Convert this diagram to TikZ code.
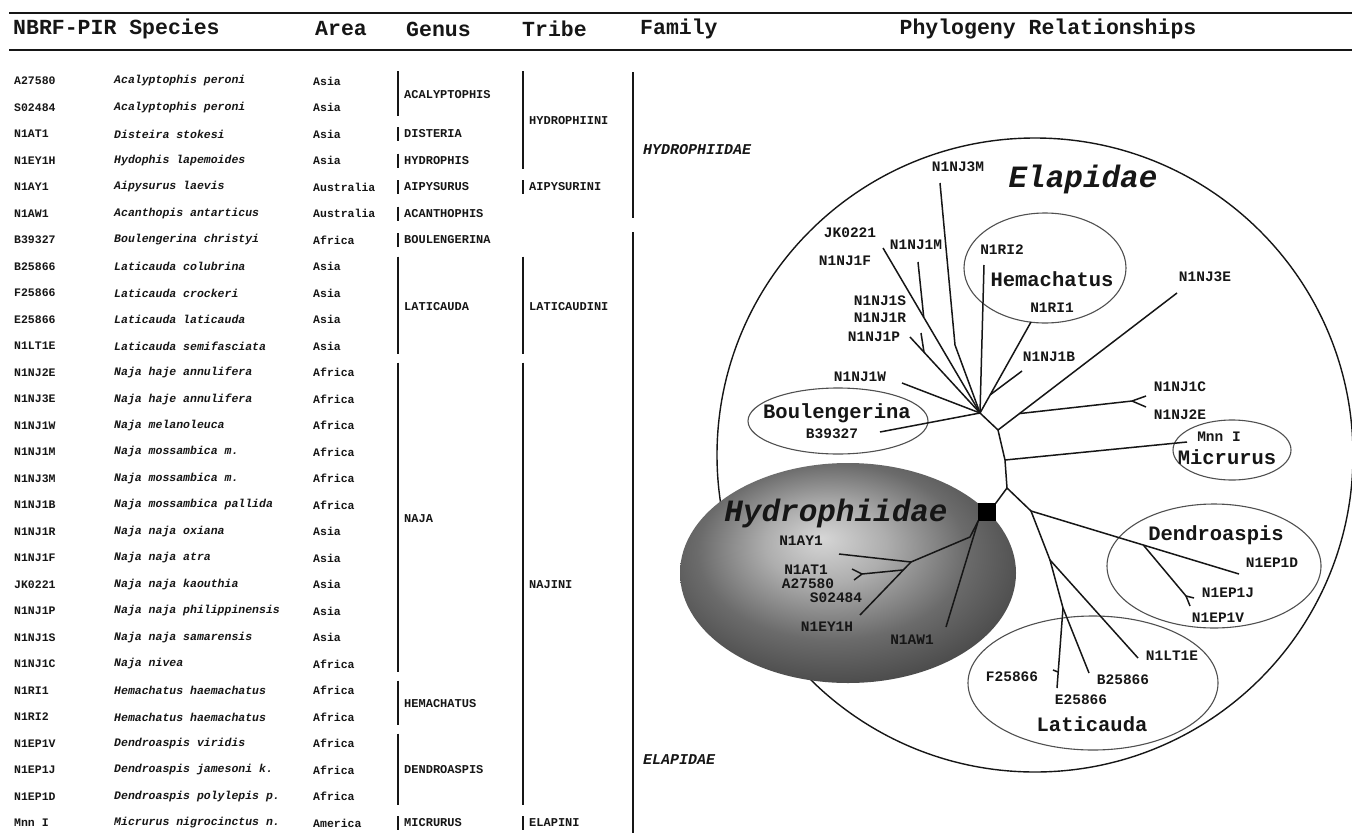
\documentclass[tikz,border=0pt]{standalone}
\usepackage{xcolor}
\usepackage{fontspec}
\setmainfont{Liberation Mono}
\usetikzlibrary{calc,positioning}
\definecolor{ink}{HTML}{161616}
\definecolor{rim}{HTML}{505050}
\pgfdeclareradialshading{hydroshade}{\pgfpoint{-4bp}{8bp}}{color(0bp)=(black!16); color(9bp)=(black!32); color(20bp)=(black!58); color(30bp)=(black!72); color(50bp)=(black!72)}

\begin{document}
\begin{tikzpicture}[x=1pt,y=-1pt,
  rowid/.style={anchor=west,inner sep=0pt,text=ink,font=\fontsize{11.5}{12}\selectfont\bfseries},
  rowsp/.style={rowid,font=\fontsize{11.5}{12}\selectfont\bfseries\itshape},
  head/.style={anchor=west,inner sep=0pt,text=ink,font=\fontsize{21.5}{23}\selectfont\bfseries},
  gtxt/.style={anchor=west,inner sep=0pt,text=ink,font=\fontsize{12}{13}\selectfont\bfseries},
  ftxt/.style={anchor=west,inner sep=0pt,text=ink,font=\fontsize{15}{16}\selectfont\bfseries\itshape},
  brk/.style={draw=ink,line width=1.2pt},
  rule/.style={draw=ink,line width=2pt},
  br/.style={draw=ink,line width=1.5pt,line join=round},
  lbl/.style={inner sep=0pt,text=ink,font=\fontsize{14.5}{15}\selectfont\bfseries},
  grp/.style={inner sep=0pt,text=ink,font=\fontsize{20.5}{21}\selectfont\bfseries},
  big/.style={inner sep=0pt,text=ink,font=\fontsize{31}{31}\selectfont\bfseries\itshape},
  oval/.style={draw=rim,line width=1.1pt}]
\useasboundingbox (0,0) rectangle (1352,838);
\fill[white] (0,0) rectangle (1352,838);

\draw[rule] (9,12.5) -- (1352,12.5);
\draw[rule] (9,50) -- (1352,50);
\node[head] (hsp) at (13,29) {NBRF-PIR Species};
\node[head] (har) at (315,29) {Area};
\node[head] (hge) at (406,29) {Genus};
\node[head] (htr) at (522,29) {Tribe};
\node[head] (hfa) at (640,29) {Family};
\node[head,anchor=center] (hph) at (1048,29) {Phylogeny Relationships};

\foreach \id/\sp/\ar [count=\i from 0] in {
  A27580/Acalyptophis peroni/Asia,
  S02484/Acalyptophis peroni/Asia,
  N1AT1/Disteira stokesi/Asia,
  N1EY1H/Hydophis lapemoides/Asia,
  N1AY1/Aipysurus laevis/Australia,
  N1AW1/Acanthopis antarticus/Australia,
  B39327/Boulengerina christyi/Africa,
  B25866/Laticauda colubrina/Asia,
  F25866/Laticauda crockeri/Asia,
  E25866/Laticauda laticauda/Asia,
  N1LT1E/Laticauda semifasciata/Asia,
  N1NJ2E/Naja haje annulifera/Africa,
  N1NJ3E/Naja haje annulifera/Africa,
  N1NJ1W/Naja melanoleuca/Africa,
  N1NJ1M/Naja mossambica m./Africa,
  N1NJ3M/Naja mossambica m./Africa,
  N1NJ1B/Naja mossambica pallida/Africa,
  N1NJ1R/Naja naja oxiana/Asia,
  N1NJ1F/Naja naja atra/Asia,
  JK0221/Naja naja kaouthia/Asia,
  N1NJ1P/Naja naja philippinensis/Asia,
  N1NJ1S/Naja naja samarensis/Asia,
  N1NJ1C/Naja nivea/Africa,
  N1RI1/Hemachatus haemachatus/Africa,
  N1RI2/Hemachatus haemachatus/Africa,
  N1EP1V/Dendroaspis viridis/Africa,
  N1EP1J/Dendroaspis jamesoni k./Africa,
  N1EP1D/Dendroaspis polylepis p./Africa,
  Mnn I/Micrurus nigrocinctus n./America}
{
  \pgfmathsetmacro\yy{81+26.5*\i}
  \node[rowid] (id\i) at (14,\yy) {\id};
  \node[rowsp] (sp\i) at (114,\yy) {\sp};
  \node[rowid] (ar\i) at (313,\yy) {\ar};
}

\foreach \g/\a/\b [count=\k] in {ACALYPTOPHIS/0/1,DISTERIA/2/2,HYDROPHIS/3/3,AIPYSURUS/4/4,
  ACANTHOPHIS/5/5,BOULENGERINA/6/6,LATICAUDA/7/10,NAJA/11/22,HEMACHATUS/23/24,
  DENDROASPIS/25/27,MICRURUS/28/28}
{
  \pgfmathsetmacro\ya{81+26.5*\a-(\a==\b ? 7 : 10)}
  \pgfmathsetmacro\yb{81+26.5*\b+(\a==\b ? 7 : 8)}
  \pgfmathsetmacro\ym{81+13.25*(\a+\b)}
  \coordinate (gt\k) at (398,\ya);
  \coordinate (gb\k) at (398,\yb);
  \draw[brk] (gt\k) -- (gb\k);
  \node[gtxt] (g\k) at (404,\ym) {\g};
}

\foreach \t/\a/\b [count=\k] in {HYDROPHIINI/0/3,AIPYSURINI/4/4,LATICAUDINI/7/10,
  NAJINI/11/27,ELAPINI/28/28}
{
  \pgfmathsetmacro\ya{81+26.5*\a-(\a==\b ? 7 : 10)}
  \pgfmathsetmacro\yb{81+26.5*\b+(\a==\b ? 7 : 8)}
  \pgfmathsetmacro\ym{81+13.25*(\a+\b)}
  \coordinate (tt\k) at (523,\ya);
  \coordinate (tb\k) at (523,\yb);
  \draw[brk] (tt\k) -- (tb\k);
  \node[gtxt] (t\k) at (529,\ym) {\t};
}

\coordinate (ft1) at (633,72); \coordinate (fb1) at (633,218);
\coordinate (ft2) at (633,232); \coordinate (fb2) at (633,833);
\draw[brk] (ft1) -- (fb1); \draw[brk] (ft2) -- (fb2);
\node[ftxt] (fhy) at (643,150) {HYDROPHIIDAE};
\node[ftxt] (fel) at (643,760) {ELAPIDAE};

\draw[ink,line width=1.4pt] (1035,455) ellipse [x radius=318pt, y radius=317pt];
\draw[oval] (1045,268) ellipse [x radius=81pt, y radius=55pt];
\draw[oval] (838,421) ellipse [x radius=90pt, y radius=33pt];
\draw[oval] (1232,450) ellipse [x radius=59pt, y radius=30pt];
\draw[oval] (1214,566) ellipse [x radius=107pt, y radius=62pt];
\draw[oval] (1093,683) ellipse [x radius=125pt, y radius=67pt];
\shade[shading=hydroshade] (848,573) ellipse [x radius=168pt, y radius=110pt];

\node[draw=black,fill=black,minimum size=17pt,inner sep=0pt] (root) at (987,512) {};
\coordinate (B) at (980,413);
\coordinate (A) at (998,430);
\coordinate (M0) at (1005,460);
\coordinate (P0) at (1007,488);
\coordinate (D0) at (1031,511);
\coordinate (eF) at (883,248);
\coordinate (eM) at (918,262);
\coordinate (jM) at ($(eF)!0.42!(B)$);
\coordinate (e3M) at (940,183);
\coordinate (k3M) at (955,345);
\coordinate (eP) at (910,337);
\coordinate (jS) at ($(eP)!0.2!(B)$);
\coordinate (eS) at (921,333);
\coordinate (eRI2) at (984,265);
\coordinate (eRI1) at (1031,322);
\coordinate (eNB) at (1022,371);
\coordinate (jNB) at ($(eRI1)!0.8!(B)$);
\coordinate (eW) at (902,383);
\coordinate (eBo) at (880,432);
\coordinate (e3E) at (1177,293);
\coordinate (jC) at ($(A)!0.12!(e3E)$);
\coordinate (eC) at (1132,401);
\coordinate (fC1) at (1146,396);
\coordinate (fC2) at (1146,407);
\coordinate (eMnn) at (1187,442);
\coordinate (h0) at (970,537);
\coordinate (H1) at (911,562);
\coordinate (eAY) at (839,554);
\coordinate (eEY) at (860,615);
\coordinate (jAT) at ($(H1)!0.15!(eEY)$);
\coordinate (eAT) at (862,574);
\coordinate (fA1) at (852,569);
\coordinate (fA2) at (854,580);
\coordinate (eAW) at (946,627);
\coordinate (eD) at (1239,574);
\coordinate (jJ) at ($(D0)!0.54!(eD)$);
\coordinate (eJ) at (1186,596);
\coordinate (fJ1) at (1194,598);
\coordinate (fJ2) at (1190,606);
\coordinate (L1) at (1050,560);
\coordinate (eLT) at (1138,658);
\coordinate (L2) at (1063,608);
\coordinate (eB25) at (1089,673);
\coordinate (eE25) at (1057,688);
\coordinate (jF25) at ($(L2)!0.8!(eE25)$);
\coordinate (eF25) at (1053,670);

\draw[br] (eF) -- (B); \draw[br] (eM) -- (jM);
\draw[br] (e3M) -- (k3M) -- (B);
\draw[br] (eP) -- (B); \draw[br] (jS) -- (eS);
\draw[br] (eRI2) -- (B);
\draw[br] (eRI1) -- (B); \draw[br] (eNB) -- (jNB);
\draw[br] (eW) -- (B); \draw[br] (eBo) -- (B);
\draw[br] (B) -- (A) -- (M0) -- (P0) -- (root.north east);
\draw[br] (A) -- (e3E); \draw[br] (jC) -- (eC) -- (fC1); \draw[br] (eC) -- (fC2);
\draw[br] (M0) -- (eMnn);
\draw[br] (root.south west) -- (h0) -- (H1) -- (eEY); \draw[br] (eAY) -- (H1);
\draw[br] (jAT) -- (eAT) -- (fA1); \draw[br] (eAT) -- (fA2);
\draw[br] (root.south west) -- (eAW);
\draw[br] (P0) -- (D0) -- (eD); \draw[br] (jJ) -- (eJ) -- (fJ1); \draw[br] (eJ) -- (fJ2);
\draw[br] (D0) -- (L1) -- (eLT); \draw[br] (L1) -- (L2) -- (eB25);
\draw[br] (L2) -- (eE25); \draw[br] (jF25) -- (eF25);

\node[big] (elap) at (1083,179) {Elapidae};
\node[big] (hydro) at (836,513) {Hydrophiidae};
\node[grp] (hema) at (1052,279) {Hemachatus};
\node[grp] (boul) at (837,413) {Boulengerina};
\node[grp] (micr) at (1227,457) {Micrurus};
\node[grp] (dend) at (1216,535) {Dendroaspis};
\node[grp] (lati) at (1092,724) {Laticauda};
\node[lbl] (nNJ3M) at (958,167) {N1NJ3M};
\node[lbl] (nJK) at (850,233) {JK0221};
\node[lbl] (nNJ1M) at (916,245) {N1NJ1M};
\node[lbl] (nNJ1F) at (845,261) {N1NJ1F};
\node[lbl] (nRI2) at (1002,250) {N1RI2};
\node[lbl] (nNJ3E) at (1205,277) {N1NJ3E};
\node[lbl] (nNJ1S) at (880,301) {N1NJ1S};
\node[lbl] (nNJ1R) at (880,318) {N1NJ1R};
\node[lbl] (nRI1) at (1052,308) {N1RI1};
\node[lbl] (nNJ1P) at (874,337) {N1NJ1P};
\node[lbl] (nNJ1B) at (1049,357) {N1NJ1B};
\node[lbl] (nNJ1W) at (860,377) {N1NJ1W};
\node[lbl] (nNJ1C) at (1180,387) {N1NJ1C};
\node[lbl] (nNJ2E) at (1180,415) {N1NJ2E};
\node[lbl] (nB39) at (832,434) {B39327};
\node[lbl] (nMnn) at (1219,437) {Mnn I};
\node[lbl] (nAY1) at (801,541) {N1AY1};
\node[lbl] (nAT1) at (806,570) {N1AT1};
\node[lbl] (nA27) at (808,584) {A27580};
\node[lbl] (nS02) at (836,598) {S02484};
\node[lbl] (nEY1H) at (827,627) {N1EY1H};
\node[lbl] (nAW1) at (912,640) {N1AW1};
\node[lbl] (nEP1D) at (1272,563) {N1EP1D};
\node[lbl] (nEP1J) at (1228,593) {N1EP1J};
\node[lbl] (nEP1V) at (1218,618) {N1EP1V};
\node[lbl] (nLT1E) at (1172,656) {N1LT1E};
\node[lbl] (nF25) at (1012,677) {F25866};
\node[lbl] (nB25) at (1123,680) {B25866};
\node[lbl] (nE25) at (1081,700) {E25866};
\end{tikzpicture}
\end{document}
